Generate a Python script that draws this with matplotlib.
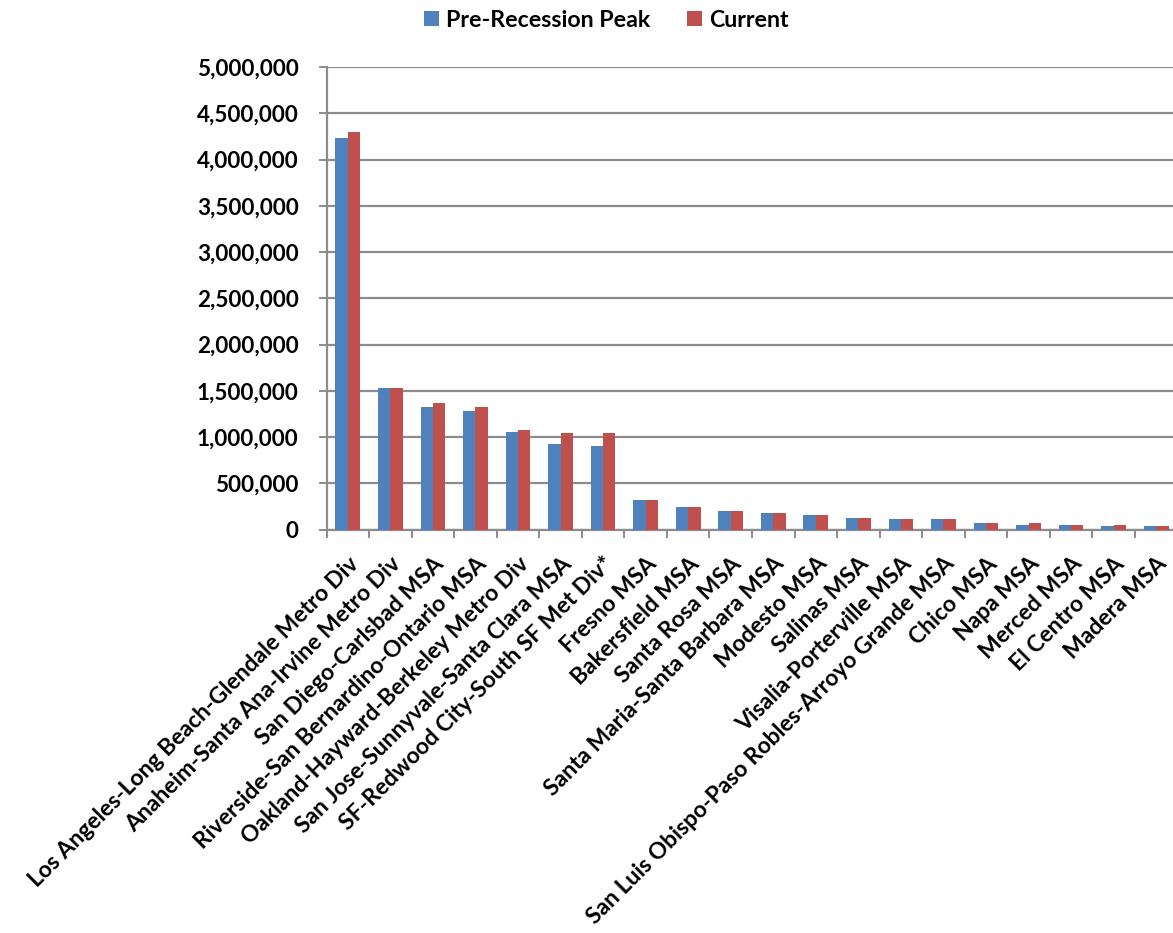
import matplotlib
matplotlib.use("Agg")
import matplotlib.pyplot as plt
from matplotlib.ticker import FuncFormatter, FixedLocator
from matplotlib.transforms import ScaledTranslation
import numpy as np

# Nonfarm employment by California metro area
areas = [
    "Los Angeles-Long Beach-Glendale Metro Div",
    "Anaheim-Santa Ana-Irvine Metro Div",
    "San Diego-Carlsbad MSA",
    "Riverside-San Bernardino-Ontario MSA",
    "Oakland-Hayward-Berkeley Metro Div",
    "San Jose-Sunnyvale-Santa Clara MSA",
    "SF-Redwood City-South SF Met Div*",
    "Fresno MSA",
    "Bakersfield MSA",
    "Santa Rosa MSA",
    "Santa Maria-Santa Barbara MSA",
    "Modesto MSA",
    "Salinas MSA",
    "Visalia-Porterville MSA",
    "San Luis Obispo-Paso Robles-Arroyo Grande MSA",
    "Chico MSA",
    "Napa MSA",
    "Merced MSA",
    "El Centro MSA",
    "Madera MSA",
]
pre_recession_peak = [4230000, 1527000, 1320000, 1285000, 1058000, 920000, 903000,
                      315000, 246000, 196000, 174000, 159000, 123000, 109000,
                      109000, 72000, 54000, 54000, 36000, 36000]
current = [4300000, 1527000, 1372000, 1320000, 1076000, 1040000, 1040000,
           315000, 246000, 196000, 174000, 159000, 123000, 109000,
           109000, 72000, 72000, 54000, 54000, 36000]

blue = "#4F81BD"
red = "#C0504D"
grid_gray = "#8C8C8C"
font = "Lato"

fig = plt.figure(figsize=(11.73, 9.33), dpi=100)
ax = fig.add_axes([326.5 / 1173, 1 - 529.5 / 933, 851 / 1173, 462.5 / 933])

x = np.arange(len(areas))
w = 0.29
ax.bar(x - w / 2, pre_recession_peak, w, color=blue, label="Pre-Recession Peak", zorder=3)
ax.bar(x + w / 2, current, w, color=red, label="Current", zorder=3)

ax.set_xlim(-0.5, len(areas) - 0.5)
ax.set_ylim(0, 5000000)
ax.set_yticks(np.arange(0, 5000001, 500000))
ax.yaxis.set_major_formatter(FuncFormatter(lambda v, p: f"{int(v):,}"))
ax.grid(axis="y", color=grid_gray, linewidth=1.6, zorder=0)

ax.set_xticks(x)
ax.set_xticklabels(areas, rotation=45, ha="right", va="top",
                   rotation_mode="anchor", fontsize=16.5, fontweight="bold",
                   fontfamily=font)
# nudge the slanted labels a little to the right
shift = ScaledTranslation(6 / 100, 0, fig.dpi_scale_trans)
for lab in ax.get_xticklabels():
    lab.set_transform(lab.get_transform() + shift)
ax.xaxis.set_minor_locator(FixedLocator(np.arange(-0.5, len(areas), 1.0)))
ax.tick_params(axis="x", which="major", length=0, pad=17)
ax.tick_params(axis="x", which="minor", length=6, width=1.4, color=grid_gray, direction="out")
ax.tick_params(axis="y", length=6, width=1.4, color=grid_gray, pad=14, labelsize=16.2)
for lab in ax.get_yticklabels():
    lab.set_fontweight("bold")
    lab.set_fontfamily(font)

for side in ["top", "right"]:
    ax.spines[side].set_visible(False)
for side in ["left", "bottom"]:
    ax.spines[side].set_color(grid_gray)
    ax.spines[side].set_linewidth(1.6)

fig.legend(loc="upper center", bbox_to_anchor=(0.517, 1.012), ncol=2, frameon=False,
           handlelength=0.65, handleheight=0.65, handletextpad=0.3, columnspacing=1.6,
           prop={"family": font, "weight": "bold", "size": 16.7})

fig.savefig("out.png", dpi=100)
